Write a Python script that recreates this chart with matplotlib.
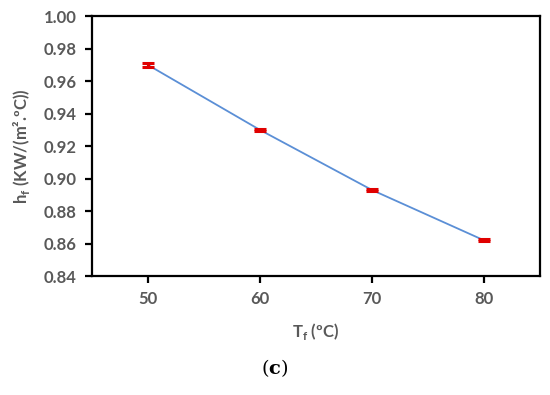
import numpy as np
import matplotlib.pyplot as plt

temps = [50, 60, 70, 80]
hf = [0.970, 0.930, 0.893, 0.862]
hf_err = [0.0012, 0.0006, 0.0006, 0.0006]

fig = plt.figure(figsize=(5.5, 3.95), dpi=100)
ax = fig.add_axes([0.167, 0.301, 0.815, 0.658])

ax.plot(temps, hf, color='#5B8FD6', lw=1.3, zorder=2)
ax.errorbar(temps, hf, yerr=hf_err, fmt='none', ecolor='#E00000',
            elinewidth=2.2, capsize=4, capthick=2.2, zorder=3)

ax.set_xlim(45, 85)
ax.set_ylim(0.84, 1.00)
ax.set_xticks(temps)
ax.set_yticks(np.arange(0.84, 1.001, 0.02))
ax.yaxis.set_major_formatter(plt.FormatStrFormatter('%.2f'))

for s in ax.spines.values():
    s.set_linewidth(1.6)
    s.set_color('black')
ax.tick_params(direction='out', length=5, width=1.6, color='black',
               labelsize=12, labelcolor='#595959', pad=6)
for lab in ax.get_xticklabels() + ax.get_yticklabels():
    lab.set_fontfamily('Lato')
    lab.set_fontweight('bold')

ax.set_ylabel('h$_\\mathregular{f}$ (KW/(m².ºC))', fontsize=12, color='#595959',
              fontfamily='Lato', fontweight='bold', labelpad=8)
ax.set_xlabel('T$_\\mathregular{f}$ (ºC)', fontsize=12, color='#595959',
              fontfamily='Lato', fontweight='bold', labelpad=10)

fig.text(0.5, 0.068, r'($\mathbf{c}$)', ha='center', va='center', fontsize=14,
         fontfamily='DejaVu Serif', math_fontfamily='dejavuserif', color='black')

fig.savefig('out.png', dpi=100)
